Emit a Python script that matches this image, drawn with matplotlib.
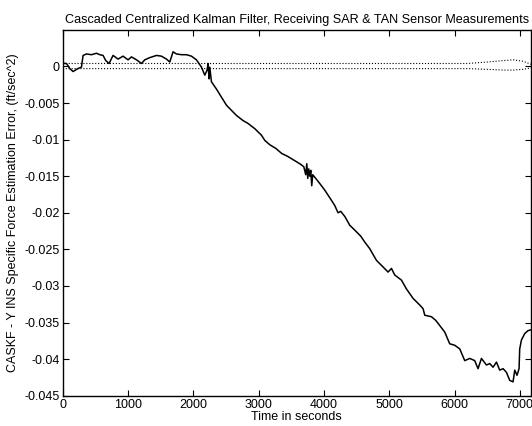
import numpy as np
import matplotlib
matplotlib.use('Agg')
import matplotlib.pyplot as plt

############################# DATA ######################
time_s = [0, 23, 57, 107, 158, 230, 286, 311, 363, 440, 516, 567, 617, 658, 709,
          770, 847, 923, 1000, 1052, 1129, 1205, 1256, 1332, 1435, 1511, 1588,
          1639, 1689, 1741, 1818, 1894, 1971, 2047, 2124, 2175, 2210, 2225, 2240,
          2251, 2277, 2354, 2430, 2507, 2583, 2660, 2761, 2838, 2940, 3043, 3093,
          3170, 3262, 3354, 3446, 3538, 3630, 3691, 3721, 3737, 3752, 3767, 3783,
          3798, 3813, 3828, 3874, 3936, 4012, 4115, 4165, 4216, 4257, 4319, 4395,
          4498, 4564, 4625, 4701, 4804, 4905, 4982, 5034, 5084, 5187, 5263, 5365,
          5467, 5518, 5544, 5646, 5712, 5773, 5850, 5926, 6003, 6080, 6156, 6233,
          6309, 6360, 6412, 6489, 6539, 6590, 6642, 6692, 6743, 6795, 6845, 6896,
          6922, 6957, 6988, 6998, 7024, 7075, 7126, 7167]
error = [0.0006, 0.0004, 0.0004, -0.0003, -0.0007, -0.0003, -0.0001, 0.0015,
         0.0017, 0.0016, 0.0018, 0.0016, 0.0015, 0.0008, 0.0004, 0.0015, 0.0010,
         0.0014, 0.0009, 0.0013, 0.0009, 0.0004, 0.0009, 0.0012, 0.0015, 0.0014,
         0.0010, 0.0006, 0.0020, 0.0017, 0.0016, 0.0016, 0.0014, 0.0009, -0.0001,
         -0.0012, -0.0005, 0.0004, -0.0017, -0.0001, -0.0021, -0.0031, -0.0042,
         -0.0053, -0.0060, -0.0067, -0.0074, -0.0078, -0.0085, -0.0094, -0.0101,
         -0.0107, -0.0112, -0.0119, -0.0123, -0.0128, -0.0133, -0.0137, -0.0148,
         -0.0133, -0.0153, -0.0140, -0.0150, -0.0142, -0.0163, -0.0148, -0.0153,
         -0.0160, -0.0169, -0.0183, -0.0190, -0.0200, -0.0198, -0.0205, -0.0217,
         -0.0226, -0.0232, -0.0240, -0.0249, -0.0265, -0.0274, -0.0281, -0.0276,
         -0.0285, -0.0292, -0.0304, -0.0317, -0.0326, -0.0331, -0.0340, -0.0342,
         -0.0347, -0.0354, -0.0363, -0.0379, -0.0381, -0.0386, -0.0402, -0.0399,
         -0.0402, -0.0413, -0.0399, -0.0408, -0.0406, -0.0411, -0.0404, -0.0415,
         -0.0413, -0.0418, -0.0429, -0.0431, -0.0415, -0.0422, -0.0413, -0.0386,
         -0.0374, -0.0365, -0.0361, -0.0360]

# filter covariance bounds (dotted)
sigma_t = [0, 6200, 6500, 6750, 6900, 7050, 7170]
sigma_upper = [0.0004, 0.0004, 0.0006, 0.0008, 0.0009, 0.0007, 0.0003]
sigma_lower = [-0.0003, -0.0003, -0.0004, -0.0005, -0.0005, -0.0004, -0.0002]

x_ticks = [0, 1000, 2000, 3000, 4000, 5000, 6000, 7000]
y_ticks = [0, -0.005, -0.01, -0.015, -0.02, -0.025, -0.03, -0.035, -0.04, -0.045]
y_tick_labels = ['0', '-0.005', '-0.01', '-0.015', '-0.02', '-0.025', '-0.03',
                 '-0.035', '-0.04', '-0.045']

#################################### PLOT #######################################
plt.rcParams['font.family'] = ['Liberation Sans', 'DejaVu Sans']
plt.rcParams['font.size'] = 9

fig = plt.figure(figsize=(5.32, 4.26), dpi=100)
ax = fig.add_axes([0.118, 0.071, 0.88, 0.859])

ax.plot(time_s, error, 'k', lw=1.1)
ax.plot(sigma_t, sigma_upper, 'k:', lw=0.8)
ax.plot(sigma_t, sigma_lower, 'k:', lw=0.8)

ax.set_xlim(0, 7170)
ax.set_ylim(-0.045, 0.005)
ax.set_xticks(x_ticks)
ax.set_xticklabels([str(v) for v in x_ticks])
ax.set_yticks(y_ticks)
ax.set_yticklabels(y_tick_labels)
ax.tick_params(direction='in', top=True, right=True, length=4, width=0.8, pad=2)
for sp in ax.spines.values():
    sp.set_linewidth(1.0)

ax.set_xlabel('Time in seconds', labelpad=0)
ax.set_ylabel('CASKF - Y INS Specific Force Estimation Error, (ft/sec^2)', labelpad=4)
ax.set_title('Cascaded Centralized Kalman Filter, Receiving SAR & TAN Sensor Measurements',
             fontsize=9.1, pad=5)

fig.savefig('out.png', dpi=100)
